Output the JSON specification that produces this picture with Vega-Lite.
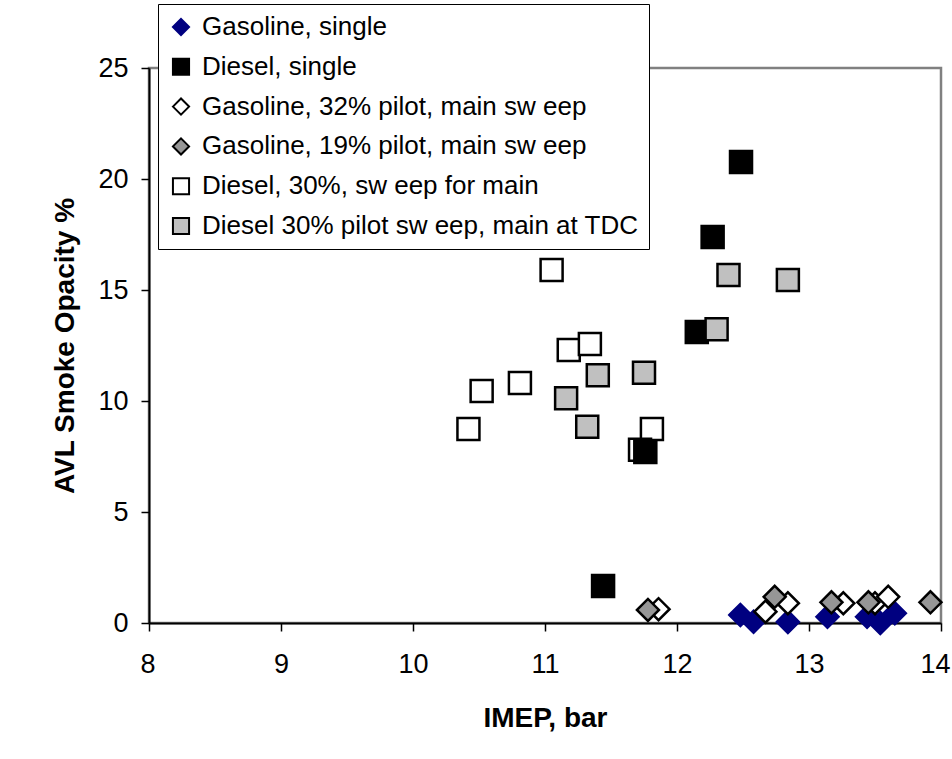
{
  "$schema": "https://vega.github.io/schema/vega-lite/v6.json",
  "width": 792,
  "height": 555,
  "autosize": {"type": "none"},
  "padding": {"left": 149, "top": 68, "right": 11, "bottom": 136},
  "background": "white",
  "config": {
    "font": "Liberation Sans",
    "view": {"stroke": "#808080", "strokeWidth": 2.5},
    "legend": {
      "symbolSize": 260,
      "symbolStrokeWidth": 2,
      "labelFontSize": 26,
      "labelFont": "Liberation Sans",
      "labelColor": "black",
      "labelLimit": 0,
      "rowPadding": 13.8,
      "padding": 10,
      "labelOffset": 8,
      "strokeColor": "black",
      "fillColor": "white",
      "strokeWidth": 1
    }
  },
  "data": {
    "values": [
      {"series": "Gasoline, single", "imep": 12.48, "smoke": 0.36},
      {"series": "Gasoline, single", "imep": 12.58, "smoke": 0.06},
      {"series": "Gasoline, single", "imep": 12.84, "smoke": 0.05},
      {"series": "Gasoline, single", "imep": 13.14, "smoke": 0.28},
      {"series": "Gasoline, single", "imep": 13.44, "smoke": 0.28},
      {"series": "Gasoline, single", "imep": 13.54, "smoke": 0.0},
      {"series": "Gasoline, single", "imep": 13.65, "smoke": 0.44},
      {"series": "Diesel, 30%, sw eep for main", "imep": 11.05, "smoke": 15.9},
      {"series": "Diesel, 30%, sw eep for main", "imep": 11.18, "smoke": 12.3},
      {"series": "Diesel, 30%, sw eep for main", "imep": 11.34, "smoke": 12.57},
      {"series": "Diesel, 30%, sw eep for main", "imep": 10.81, "smoke": 10.81},
      {"series": "Diesel, 30%, sw eep for main", "imep": 10.52, "smoke": 10.45},
      {"series": "Diesel, 30%, sw eep for main", "imep": 10.42, "smoke": 8.74},
      {"series": "Diesel, 30%, sw eep for main", "imep": 11.81, "smoke": 8.74},
      {"series": "Diesel, 30%, sw eep for main", "imep": 11.72, "smoke": 7.8},
      {"series": "Diesel, single", "imep": 12.485, "smoke": 20.77},
      {"series": "Diesel, single", "imep": 12.27, "smoke": 17.39},
      {"series": "Diesel, single", "imep": 12.15, "smoke": 13.11},
      {"series": "Diesel, single", "imep": 11.76, "smoke": 7.7},
      {"series": "Diesel, single", "imep": 11.44, "smoke": 1.67},
      {"series": "Gasoline, 32% pilot, main sw eep", "imep": 11.86, "smoke": 0.62},
      {"series": "Gasoline, 32% pilot, main sw eep", "imep": 12.67, "smoke": 0.51},
      {"series": "Gasoline, 32% pilot, main sw eep", "imep": 12.84, "smoke": 0.89},
      {"series": "Gasoline, 32% pilot, main sw eep", "imep": 13.26, "smoke": 0.89},
      {"series": "Gasoline, 32% pilot, main sw eep", "imep": 13.5, "smoke": 0.89},
      {"series": "Gasoline, 32% pilot, main sw eep", "imep": 13.6, "smoke": 1.18},
      {"series": "Gasoline, 19% pilot, main sw eep", "imep": 11.78, "smoke": 0.59},
      {"series": "Gasoline, 19% pilot, main sw eep", "imep": 12.74, "smoke": 1.18},
      {"series": "Gasoline, 19% pilot, main sw eep", "imep": 13.17, "smoke": 0.93},
      {"series": "Gasoline, 19% pilot, main sw eep", "imep": 13.45, "smoke": 0.93},
      {"series": "Gasoline, 19% pilot, main sw eep", "imep": 13.92, "smoke": 0.93},
      {"series": "Diesel 30% pilot sw eep, main at TDC", "imep": 12.39, "smoke": 15.68},
      {"series": "Diesel 30% pilot sw eep, main at TDC", "imep": 12.84, "smoke": 15.45},
      {"series": "Diesel 30% pilot sw eep, main at TDC", "imep": 12.3, "smoke": 13.23},
      {"series": "Diesel 30% pilot sw eep, main at TDC", "imep": 11.75, "smoke": 11.27},
      {"series": "Diesel 30% pilot sw eep, main at TDC", "imep": 11.4, "smoke": 11.16},
      {"series": "Diesel 30% pilot sw eep, main at TDC", "imep": 11.16, "smoke": 10.12},
      {"series": "Diesel 30% pilot sw eep, main at TDC", "imep": 11.32, "smoke": 8.84}
    ]
  },
  "mark": {"type": "point", "filled": true, "size": 484, "strokeWidth": 2.5, "opacity": 1},
  "encoding": {
    "x": {
      "field": "imep", "type": "quantitative",
      "scale": {"domain": [8, 14], "nice": false, "zero": false},
      "axis": {
        "title": "IMEP, bar", "titleFontSize": 28, "titleFontWeight": "bold", "titleColor": "black", "titlePadding": 27,
        "values": [8, 9, 10, 11, 12, 13, 14], "format": "d",
        "grid": false, "domainColor": "black", "domainWidth": 2, "tickColor": "black", "tickWidth": 1.5, "tickSize": 8,
        "labelFontSize": 27, "labelColor": "black", "labelPadding": 20, "labelFlush": true, "labelFlushOffset": 9, "labelOverlap": false
      }
    },
    "y": {
      "field": "smoke", "type": "quantitative",
      "scale": {"domain": [0, 25], "nice": false},
      "axis": {
        "title": "AVL Smoke Opacity %", "titleFontSize": 28, "titleFontWeight": "bold", "titleColor": "black", "titlePadding": 18,
        "values": [0, 5, 10, 15, 20, 25],
        "grid": false, "domainColor": "black", "domainWidth": 2, "tickColor": "black", "tickWidth": 1.5, "tickSize": 8,
        "labelFontSize": 27, "labelColor": "black", "labelPadding": 13, "labelFlush": false, "labelOverlap": false
      }
    },
    "shape": {
      "field": "series", "type": "nominal",
      "scale": {
        "domain": ["Gasoline, single", "Diesel, single", "Gasoline, 32% pilot, main sw eep", "Gasoline, 19% pilot, main sw eep", "Diesel, 30%, sw eep for main", "Diesel 30% pilot sw eep, main at TDC"],
        "range": ["diamond", "square", "diamond", "diamond", "square", "square"]
      },
      "legend": {"title": null, "orient": "none", "legendX": 9, "legendY": -64}
    },
    "fill": {
      "field": "series", "type": "nominal",
      "scale": {
        "domain": ["Gasoline, single", "Diesel, single", "Gasoline, 32% pilot, main sw eep", "Gasoline, 19% pilot, main sw eep", "Diesel, 30%, sw eep for main", "Diesel 30% pilot sw eep, main at TDC"],
        "range": ["#000080", "#000000", "#ffffff", "#969696", "#ffffff", "#c0c0c0"]
      },
      "legend": {"title": null, "orient": "none", "legendX": 9, "legendY": -64}
    },
    "stroke": {
      "field": "series", "type": "nominal",
      "scale": {
        "domain": ["Gasoline, single", "Diesel, single", "Gasoline, 32% pilot, main sw eep", "Gasoline, 19% pilot, main sw eep", "Diesel, 30%, sw eep for main", "Diesel 30% pilot sw eep, main at TDC"],
        "range": ["#000080", "#000000", "#000000", "#000000", "#000000", "#000000"]
      },
      "legend": {"title": null, "orient": "none", "legendX": 9, "legendY": -64}
    }
  }
}
